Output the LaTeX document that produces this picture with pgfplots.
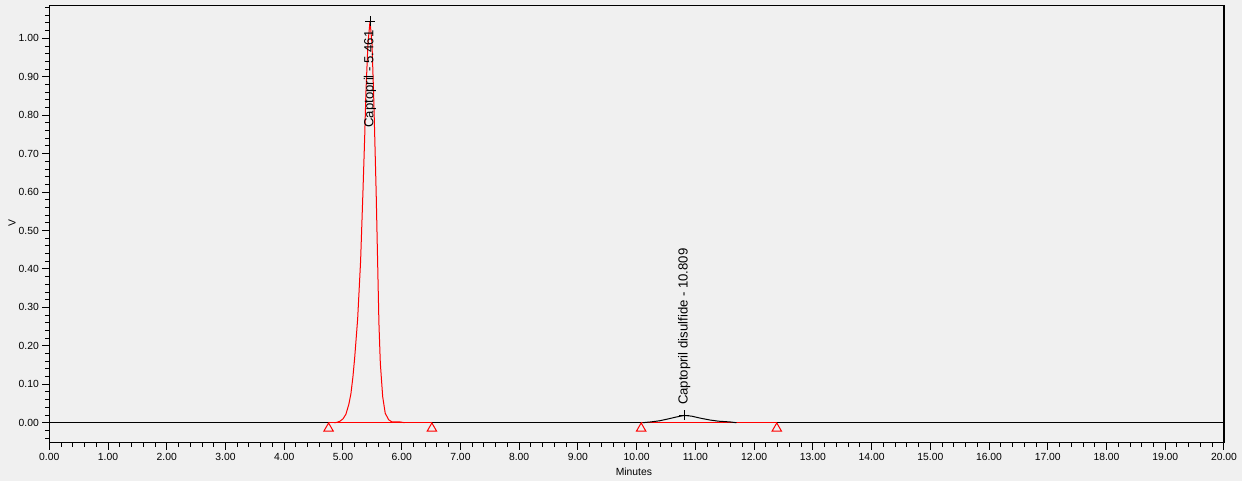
\documentclass[border=0pt]{standalone}
\usepackage{fontspec}
\setmainfont{Liberation Sans}
\usepackage{pgfplots}
\pgfplotsset{compat=1.18}
\definecolor{bg}{HTML}{F0F0F0}
\begin{document}
\begin{tikzpicture}
\fill[bg] (0,0) rectangle (1242bp,481bp);
\begin{axis}[
  at={(49.3bp,38.3bp)}, anchor=south west,
  scale only axis, width=1174.7bp, height=437.4bp,
  xmin=0, xmax=20, ymin=-0.052, ymax=1.086,
  xtick distance=1, ytick distance=0.1,
  minor x tick num=4, minor y tick num=4,
  tick pos=left, tick align=outside,
  major tick length=7bp, minor tick length=4bp,
  axis line style={line width=1.2bp},
  every tick/.style={black, line width=1bp},
  axis background/.style={fill=bg},
  /pgf/number format/assume math mode=true,
  /pgf/number format/.cd, fixed, fixed zerofill, precision=2, /pgfplots/.cd,
  tick label style={font=\fontsize{10.4}{12}\selectfont},
  xlabel={Minutes}, ylabel={V},
  label style={font=\fontsize{10.4}{12}\selectfont},
  xlabel style={at={(axis description cs:0.4977,-0.0745)}, anchor=base},
  ylabel style={at={(axis description cs:-0.0318,0.502)}, anchor=center},
]
\addplot[black, line width=1bp] coordinates {(0,0) (20,0)};
\addplot[red, line width=1bp] coordinates {(4.755,0) (6.514,0)};
\addplot[red, line width=1bp] coordinates {(10.077,0) (12.386,0)};
\addplot[red, line width=1bp] coordinates {
(4.85,0) (4.90,0.001) (4.95,0.004) (5.00,0.010) (5.05,0.022) (5.10,0.048)
(5.135,0.075) (5.17,0.12) (5.20,0.17) (5.25,0.27) (5.30,0.42) (5.34,0.60)
(5.37,0.744) (5.39,0.856) (5.425,0.986) (5.461,1.045) (5.494,0.986)
(5.522,0.856) (5.541,0.744) (5.565,0.60) (5.592,0.405) (5.612,0.26)
(5.636,0.155) (5.676,0.068) (5.719,0.025) (5.776,0.008) (5.833,0.002)
(5.97,0.002) (6.05,0)};
\addplot[black, line width=1bp] coordinates {
(10.10,0) (10.24,0.002) (10.39,0.005) (10.54,0.010) (10.68,0.015)
(10.809,0.019) (10.94,0.017) (11.08,0.012) (11.25,0.007) (11.39,0.004)
(11.59,0.002) (11.70,0)};
\addplot[red, only marks, mark=triangle, mark size=5.5bp, mark options={line width=1bp}]
  coordinates {(4.755,-0.015) (6.514,-0.015) (10.077,-0.015) (12.386,-0.015)};
\addplot[black, only marks, mark=+, mark size=5bp, mark options={line width=1bp}]
  coordinates {(5.461,1.045) (10.809,0.019)};
\node[rotate=90, anchor=west, inner sep=0pt, font=\fontsize{13.2}{15}\selectfont]
  at (axis cs:5.461,0.767) {Captopril - 5.461};
\node[rotate=90, anchor=west, inner sep=0pt, font=\fontsize{13.2}{15}\selectfont]
  at (axis cs:10.809,0.046) {Captopril disulfide - 10.809};
\end{axis}
\end{tikzpicture}
\end{document}
